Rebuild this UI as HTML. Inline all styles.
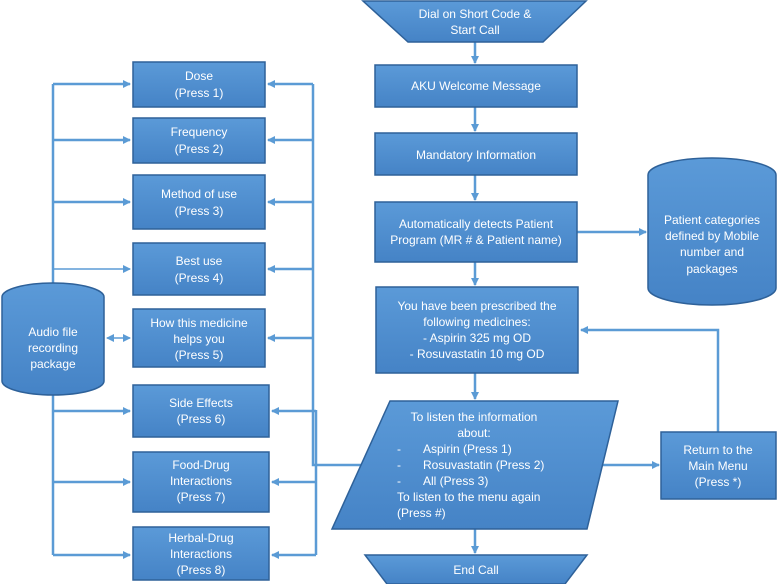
<!DOCTYPE html>
<html><head><meta charset="utf-8"><style>
body{margin:0;background:#fff;}
svg{display:block;font-family:"Liberation Sans",sans-serif;}
</style></head><body>
<svg width="778" height="584" viewBox="0 0 778 584" xmlns="http://www.w3.org/2000/svg">
<defs>
<linearGradient id="g" x1="0" y1="0" x2="0" y2="1"><stop offset="0" stop-color="#5b9ad8"/><stop offset="1" stop-color="#4583c6"/></linearGradient>
<marker id="a" markerWidth="8" markerHeight="8" refX="7" refY="4" orient="auto" markerUnits="userSpaceOnUse"><path d="M0,0 L8,4 L0,8 z" fill="#5b9bd5"/></marker>
<marker id="s" markerWidth="8" markerHeight="8" refX="1" refY="4" orient="auto" markerUnits="userSpaceOnUse"><path d="M8,0 L0,4 L8,8 z" fill="#5b9bd5"/></marker>
</defs>
<g stroke="#5b9bd5" stroke-width="2.5" fill="none">
<!-- left bus -->
<path d="M53 283 V84"/><path d="M53 395 V555"/>
<path d="M53 84 H130" marker-end="url(#a)"/>
<path d="M53 140 H130" marker-end="url(#a)"/>
<path d="M53 202 H130" marker-end="url(#a)"/>
<path d="M53 269 H130" marker-end="url(#a)" stroke-width="1.5"/>
<path d="M107 338 H130" marker-end="url(#a)" marker-start="url(#s)" stroke-width="1.5"/>
<path d="M53 411 H130" marker-end="url(#a)"/>
<path d="M53 482 H130" marker-end="url(#a)"/>
<path d="M53 555 H130" marker-end="url(#a)"/>
<!-- right bus -->
<path d="M313 84 V465 H362"/><path d="M316 410 V555"/>
<path d="M313 84 H268" marker-end="url(#a)"/>
<path d="M313 140 H268" marker-end="url(#a)"/>
<path d="M313 202 H268" marker-end="url(#a)"/>
<path d="M313 269 H268" marker-end="url(#a)"/>
<path d="M313 338 H268" marker-end="url(#a)"/>
<path d="M316 411 H272" marker-end="url(#a)"/>
<path d="M316 482 H272" marker-end="url(#a)"/>
<path d="M316 555 H272" marker-end="url(#a)"/>
<!-- center -->
<path d="M475 42 V63" marker-end="url(#a)"/>
<path d="M475 107 V131" marker-end="url(#a)"/>
<path d="M475 175 V200" marker-end="url(#a)"/>
<path d="M475 262 V285" marker-end="url(#a)"/>
<path d="M475 373 V399" marker-end="url(#a)"/>
<path d="M475 529 V553" marker-end="url(#a)"/>
<path d="M577 232 H646" marker-end="url(#a)"/>
<path d="M590 465 H659" marker-end="url(#a)"/>
<path d="M718 432 V330 H581" marker-end="url(#a)"/>
</g>
<g fill="url(#g)" stroke="#2e6199" stroke-width="1.5">
<rect x="133" y="62" width="132" height="45"/>
<rect x="133" y="118" width="132" height="45"/>
<rect x="133" y="175" width="132" height="54"/>
<rect x="133" y="243" width="132" height="52"/>
<rect x="133" y="309" width="132" height="58"/>
<rect x="133" y="385" width="136" height="52"/>
<rect x="133" y="452" width="136" height="60"/>
<rect x="133" y="527" width="136" height="53"/>
<path d="M2 297 A51 14 0 0 1 104 297 V381 A51 14 0 0 1 2 381 Z"/>
<path d="M363 1 H586 L543 42 H408 Z"/>
<rect x="375" y="65" width="202" height="42"/>
<rect x="375" y="133" width="202" height="42"/>
<rect x="375" y="202" width="202" height="60"/>
<rect x="376" y="287" width="202" height="86"/>
<path d="M648 175 A64 17 0 0 1 776 175 V288 A64 17 0 0 1 648 288 Z"/>
<path d="M390 401 H618 L587 529 H332 Z"/>
<rect x="661" y="432" width="115" height="67"/>
<path d="M365 555 H587 L565 584 H387 Z"/>
</g>
<g fill="#fff" font-size="12" text-anchor="middle">
<text x="199" y="80">Dose</text><text x="199" y="97">(Press 1)</text>
<text x="199" y="136">Frequency</text><text x="199" y="153">(Press 2)</text>
<text x="199" y="198">Method of use</text><text x="199" y="215">(Press 3)</text>
<text x="199" y="265">Best use</text><text x="199" y="282">(Press 4)</text>
<text x="199" y="327">How this medicine</text><text x="199" y="343">helps you</text><text x="199" y="359">(Press 5)</text>
<text x="201" y="407">Side Effects</text><text x="201" y="423">(Press 6)</text>
<text x="201" y="469">Food-Drug</text><text x="201" y="485">Interactions</text><text x="201" y="501">(Press 7)</text>
<text x="201" y="542">Herbal-Drug</text><text x="201" y="558">Interactions</text><text x="201" y="574">(Press 8)</text>
<text x="53" y="336">Audio file</text><text x="53" y="352">recording</text><text x="53" y="368">package</text>
<text x="475" y="18">Dial on Short Code &amp;</text><text x="475" y="34">Start Call</text>
<text x="476" y="90">AKU Welcome Message</text>
<text x="476" y="159">Mandatory Information</text>
<text x="476" y="228">Automatically detects Patient</text><text x="476" y="244">Program (MR # &amp; Patient name)</text>
<text x="477" y="310">You have been prescribed the</text><text x="477" y="326">following medicines:</text>
<text x="477" y="342">- Aspirin 325 mg OD</text><text x="477" y="358">- Rosuvastatin 10 mg OD</text>
<text x="712" y="224">Patient categories</text><text x="712" y="240">defined by Mobile</text><text x="712" y="256">number and</text><text x="712" y="273">packages</text>
<text x="474" y="421">To listen the information</text><text x="474" y="437">about:</text>
<text x="718" y="454">Return to the</text><text x="718" y="470">Main Menu</text><text x="718" y="486">(Press *)</text>
<text x="476" y="574">End Call</text>
</g>
<g fill="#fff" font-size="12">
<text x="397" y="453">-</text><text x="423" y="453">Aspirin (Press 1)</text>
<text x="397" y="469">-</text><text x="423" y="469">Rosuvastatin  (Press 2)</text>
<text x="397" y="485">-</text><text x="423" y="485">All (Press 3)</text>
<text x="397" y="501">To listen to the menu again</text>
<text x="397" y="517">(Press #)</text>
</g>
</svg>
</body></html>
